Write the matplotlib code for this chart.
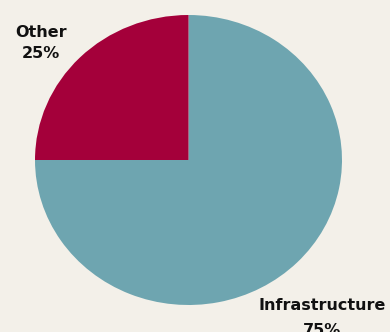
import matplotlib
matplotlib.use("Agg")
import matplotlib.pyplot as plt

categories = ["Infrastructure", "Other"]
values = [75, 25]
colors = ["#6ea5b0", "#a4003a"]

W, H = 390, 332
bg = "#f3f0e9"
fig = plt.figure(figsize=(W / 100, H / 100), dpi=100, facecolor=bg)

# pie box in pixel coordinates (slightly elliptical in the reference)
left, right, top, bottom = 35, 342, 15, 305
ax = fig.add_axes([left / W, (H - bottom) / H, (right - left) / W, (bottom - top) / H])
ax.set_facecolor(bg)
ax.pie(values, colors=colors, startangle=90, counterclock=False,
       radius=1, frame=True, wedgeprops=dict(linewidth=0))
ax.set_aspect("auto")
ax.set_xlim(-1, 1)
ax.set_ylim(-1, 1)
ax.axis("off")

# text overlay in pixel coordinates
tx = fig.add_axes([0, 0, 1, 1], facecolor="none")
tx.set_xlim(0, W)
tx.set_ylim(0, H)
tx.axis("off")

font = dict(family="DejaVu Sans", weight="bold", size=11.5, color="#111111")
tx.text(41, H - 37, categories[1], ha="center", va="baseline", **font)
tx.text(41, H - 58, f"{values[1]}%", ha="center", va="baseline", **font)
tx.text(322, H - 310, categories[0], ha="center", va="baseline", **font)
tx.text(322, H - 335, f"{values[0]}%", ha="center", va="baseline", clip_on=False, **font)

fig.savefig("out.png", dpi=100, facecolor=bg)
